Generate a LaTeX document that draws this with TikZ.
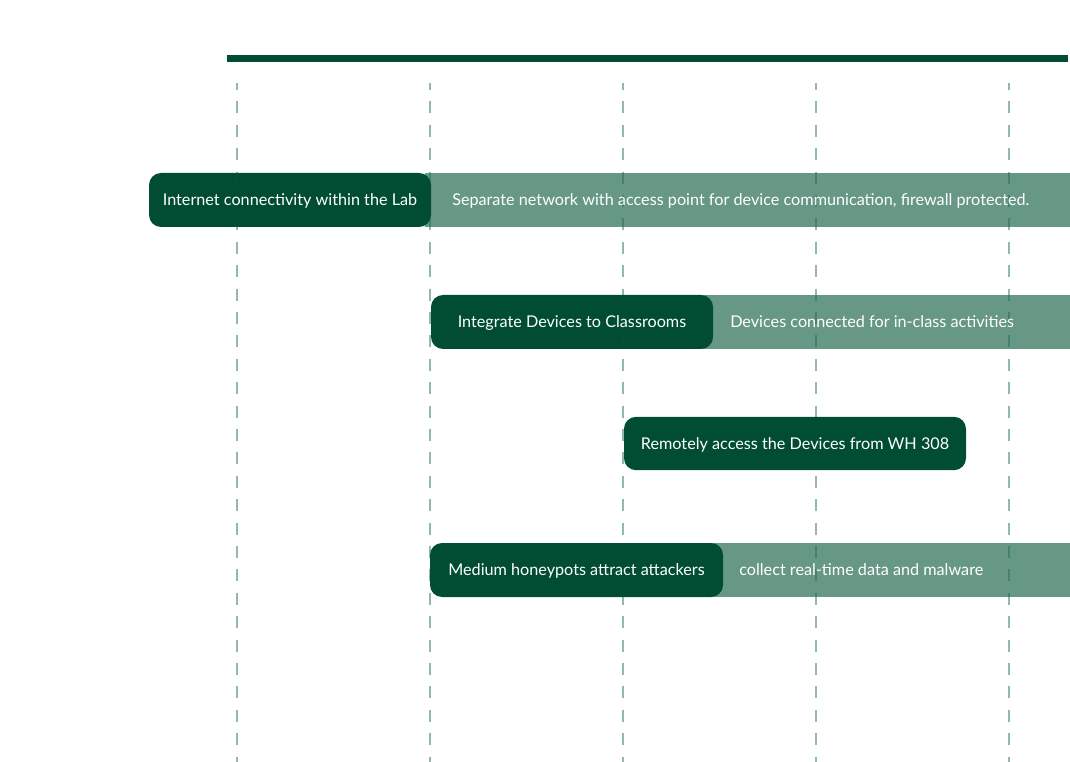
\documentclass[tikz,border=0pt]{standalone}
\usepackage{fontspec}
\setmainfont{Lato}
\definecolor{dkgreen}{HTML}{004D34}
\definecolor{ltgreen}{HTML}{679785}
\definecolor{dashgreen}{HTML}{1E7055}
\tikzset{
  txt/.style={text=white, font=\fontsize{12.15pt}{14pt}\selectfont,
    text height=8.6pt, text depth=0pt},
  darkbox/.style={txt, fill=dkgreen, rounded corners=9pt, inner sep=0pt},
  lightbar/.style={fill=ltgreen, inner sep=0pt, minimum height=40.5pt},
  lighttext/.style={txt, anchor=west, inner sep=0pt},
  gridline/.style={draw=dashgreen, opacity=0.45, line width=1.5pt,
    dash pattern=on 9pt off 8.55pt, dash phase=3.7pt},
  gridfaint/.style={gridline, opacity=0.07},
  topbar/.style={fill=dkgreen, inner sep=0pt}
}
\begin{document}
\begin{tikzpicture}[x=0.75pt, y=-0.75pt]
\useasboundingbox (0,0) rectangle (1070,762);
% top bar
\node[topbar, minimum width=630.75pt, minimum height=5.25pt] (bar) at (647.5,58.5) {};
% light bars
\node[lightbar, minimum width=483.75pt] (l1) at (747.5,200) {};
\node[lightbar, minimum width=277.5pt] (l2) at (885,322) {};
\node[lightbar, minimum width=270pt] (l4) at (890,570) {};
% dashed grid lines
\foreach \i/\x in {1/237,2/430,3/623,4/816,5/1009}{
  \coordinate (g\i top) at (\x,83);
  \coordinate (g\i bot) at (\x,762);
  \draw[gridline] (g\i top) -- (g\i bot);
}
% light texts
\node[lighttext] (t1) at (452,200) {Separate network with access point for device communication, firewall protected.};
\node[lighttext] (t2) at (730,322) {Devices connected for in-class activities};
\node[lighttext] (t4) at (739,570) {collect real-time data and malware};
% dark boxes
\node[darkbox, minimum width=211.5pt, minimum height=40.5pt] (d1) at (290,200) {Internet connectivity within the Lab};
\node[darkbox, minimum width=211.5pt, minimum height=40.5pt] (d2) at (572,322) {Integrate Devices to Classrooms};
\node[darkbox, minimum width=256.5pt, minimum height=40pt] (d3) at (795,443.5) {Remotely access the Devices from WH 308};
\node[darkbox, minimum width=219.75pt, minimum height=40.5pt] (d4) at (576.5,570) {Medium honeypots attract attackers};
% faint trace of the grid over the dark boxes
\foreach \i in {1,...,5}{
  \draw[gridfaint] (g\i top) -- (g\i bot);
}
\end{tikzpicture}
\end{document}
